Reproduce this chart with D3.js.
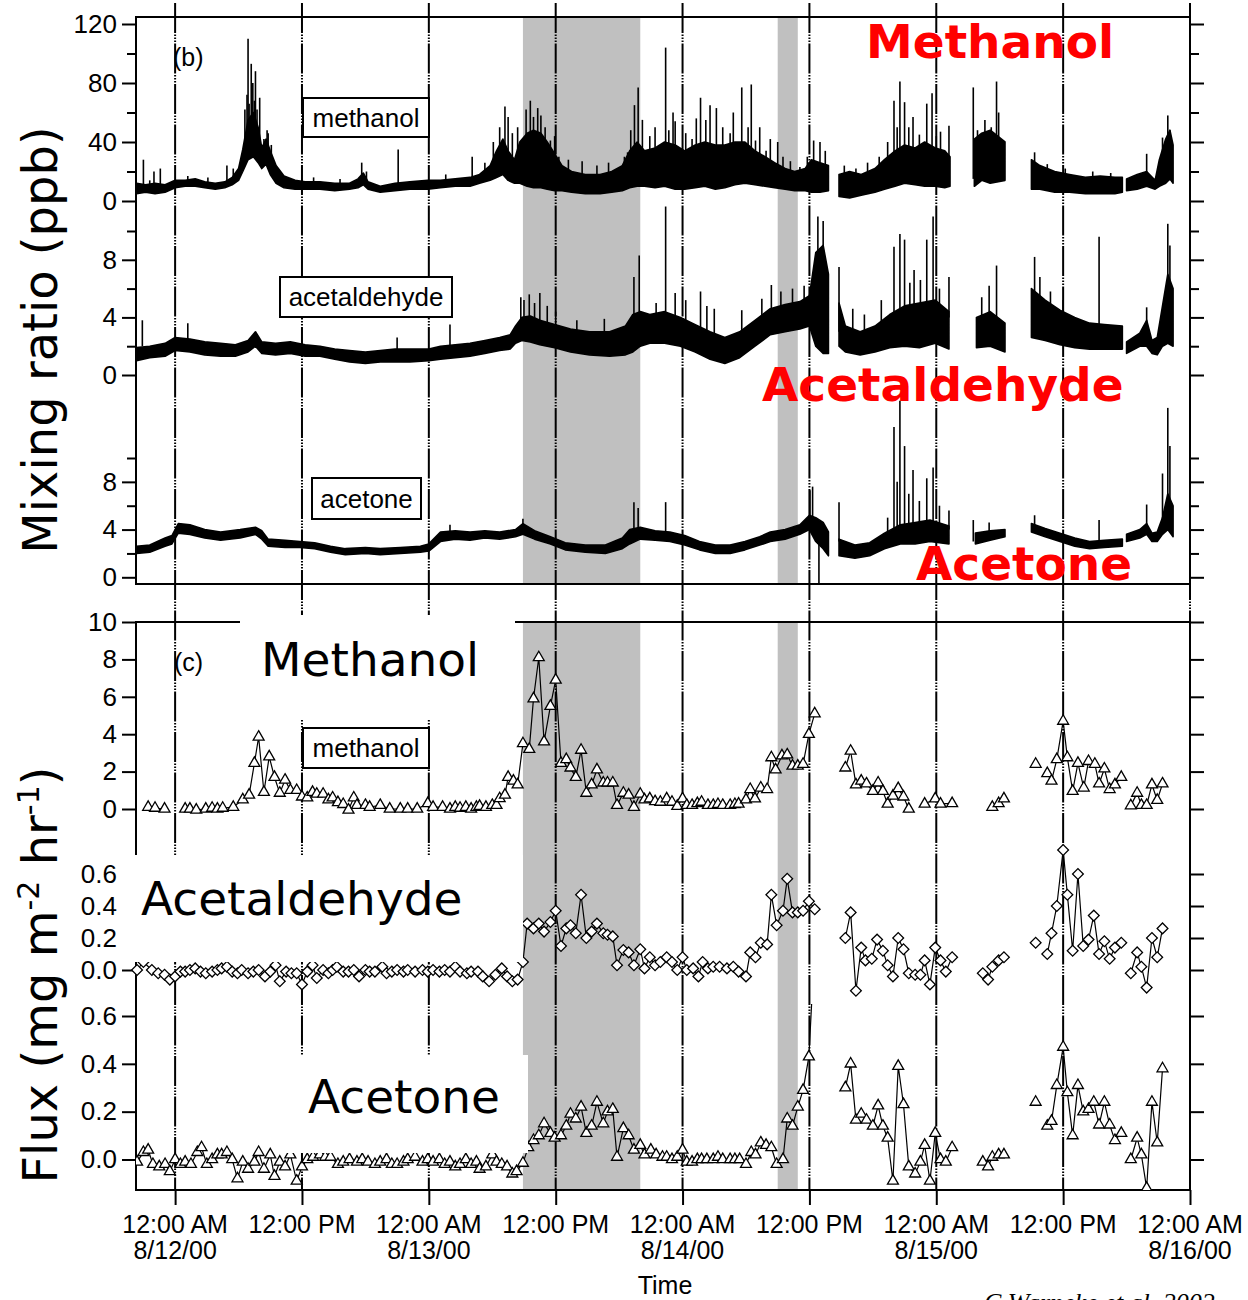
<!DOCTYPE html>
<html>
<head>
<meta charset="utf-8">
<script src="https://cdn.jsdelivr.net/npm/d3@7"></script>
<style>
  body { margin: 0; background: #fff; }
</style>
</head>
<body>
<svg id="chart" width="1248" height="1300" font-family="Liberation Sans, Arial, sans-serif"></svg>
<script>
// time is hours after 12:00 AM 8/12/00

// mixing ratios (ppb) : [hour, low edge of trace, high edge of trace], null = no data
var methBand = [[-3.65,5,12],[-2.8,6,11],[-1.9,5,12],[-0.95,6,11],[0,9,14],[0.95,10,14],[1.9,10,15],[2.8,9,13],[3.8,8,12],[4.7,9,13],[5.4,11,16],[6.0,14,22],[6.4,20,35],[6.9,28,55],[7.4,30,60],[7.85,26,50],[8.2,22,36],[8.6,25,42],[9.0,18,34],[9.55,12,24],[10.3,9,17],[11.35,8,14],[12.3,8,13],[13.7,8,13],[15.1,7,12],[16.5,8,12],[17.3,9,15],[17.8,11,19],[18.25,8,13],[19.4,6,10],[20.8,7,12],[22.2,8,13],[23.9,8,14],[25.1,9,14],[26.5,10,15],[27.9,10,16],[28.8,12,18],[29.8,14,24],[30.4,16,34],[31.0,18,42],[31.5,14,34],[32.1,12,28],[32.6,12,40],[33.3,10,46],[33.9,9,48],[34.6,9,46],[35.2,8,40],[35.9,7,32],[36.6,7,24],[37.5,6,20],[38.8,5,18],[40.2,5,18],[41.3,6,20],[42.3,7,24],[43.0,9,34],[43.7,10,40],[44.4,10,34],[45.4,9,36],[46.3,10,40],[47.3,8,38],[48.2,8,34],[49.2,9,38],[50.1,10,40],[51.1,8,38],[52.0,9,38],[52.95,11,40],[53.9,12,40],[54.85,11,34],[55.8,10,30],[56.7,9,26],[57.7,8,22],[58.6,7,20],[59.6,7,22],[60.2,6,28],[61.0,6,26],[61.8,7,24],[62.2,null,null],[62.8,3,18],[63.8,2,20],[64.9,4,18],[66.2,6,22],[67.1,8,28],[68.1,10,34],[69.0,12,38],[70.0,11,36],[70.9,10,40],[71.9,10,36],[72.8,9,34],[73.3,10,30],[73.6,null,null],[75.6,10,42],[76.3,14,46],[77.1,12,48],[78.5,14,40],[78.8,null,null],[81.0,8,28],[81.8,8,24],[83.2,6,20],[84.6,6,18],[86.1,5,16],[87.5,5,17],[88.9,5,16],[89.6,6,16],[89.8,null,null],[90.0,7,15],[91.0,8,18],[91.9,10,20],[92.7,8,14],[93.1,10,28],[93.7,12,42],[94.1,15,48],[94.4,12,38]];
var aldBand = [[-3.65,1.0,1.9],[-2.4,1.2,2.0],[-0.95,1.3,2.2],[0,1.7,2.6],[1.4,1.6,2.5],[2.8,1.4,2.3],[4.3,1.3,2.2],[5.7,1.3,2.1],[6.9,1.6,2.4],[7.6,2.0,3.0],[8.2,1.5,2.3],[9.5,1.4,2.2],[10.9,1.5,2.3],[12.3,1.3,2.1],[13.7,1.3,2.0],[15.1,1.1,1.8],[16.5,0.9,1.7],[18.0,0.8,1.6],[19.4,0.9,1.7],[20.8,0.9,1.8],[22.2,0.9,1.8],[24.0,1.0,1.8],[25.1,1.1,2.0],[26.5,1.2,2.1],[27.9,1.3,2.2],[29.3,1.5,2.4],[30.7,1.7,2.6],[31.7,1.8,2.8],[32.2,2.2,3.4],[32.8,2.4,4.0],[33.6,2.3,4.1],[34.5,2.1,3.8],[35.9,1.9,3.5],[37.4,1.6,3.2],[39.2,1.4,3.0],[41.1,1.3,3.0],[42.6,1.4,3.4],[43.3,1.6,4.2],[44.0,2.0,4.4],[44.9,2.2,4.2],[46.3,2.2,4.4],[47.8,2.0,4.0],[49.2,1.6,3.5],[50.6,1.1,3.0],[52.0,0.8,2.6],[53.4,1.2,3.0],[54.85,2.0,3.8],[56.3,2.8,4.6],[57.7,3.0,4.9],[59.1,3.2,5.1],[60.0,3.4,5.5],[60.6,2.0,8.5],[61.3,1.5,9.0],[61.8,1.5,7.0],[62.2,null,null],[62.8,2.0,5.0],[63.4,1.6,3.4],[64.8,1.4,3.0],[66.2,1.6,3.4],[67.6,1.9,4.2],[69.0,2.0,4.8],[70.4,1.9,5.0],[71.9,2.2,5.2],[73.2,1.8,4.4],[73.6,null,null],[75.8,1.9,4.0],[77.1,2.0,4.4],[78.5,1.6,3.6],[78.8,null,null],[81.0,2.6,6.0],[82.3,2.4,5.2],[83.7,2.1,4.5],[85.1,1.9,4.0],[86.5,1.8,3.6],[87.9,1.8,3.5],[89.6,1.8,3.4],[89.8,null,null],[90.0,1.5,2.3],[91.25,2.0,2.9],[91.9,2.0,3.8],[92.4,1.5,2.4],[92.9,1.4,2.6],[93.4,2.0,4.8],[93.9,2.2,7.0],[94.4,2.0,6.0]];
var aceBand = [[-3.65,2.0,2.6],[-2.4,2.1,2.7],[-0.95,2.6,3.3],[-0.3,2.8,3.5],[0.3,3.7,4.5],[1.4,3.6,4.4],[2.8,3.3,4.0],[4.3,3.1,3.8],[6.15,3.3,4.0],[7.6,3.6,4.2],[8.2,3.2,3.9],[8.8,2.6,3.2],[10.4,2.5,3.1],[11.8,2.5,3.0],[13.2,2.4,2.9],[14.7,2.1,2.6],[16.1,1.9,2.4],[18.0,2.0,2.5],[19.4,1.9,2.4],[21.3,2.0,2.5],[23.2,2.1,2.6],[24.0,2.2,2.8],[25.1,3.0,3.8],[26.5,3.2,3.9],[27.9,3.1,3.8],[29.3,3.3,3.9],[30.7,3.2,3.8],[32.2,3.4,4.0],[32.9,3.6,4.5],[34.0,3.2,3.9],[35.5,2.8,3.4],[36.9,2.3,2.9],[38.8,2.1,2.7],[40.7,2.0,2.7],[42.3,2.4,3.3],[43.0,2.8,4.0],[44.0,3.2,4.2],[45.4,3.1,3.9],[46.8,3.0,3.8],[48.2,2.7,3.5],[49.6,2.3,3.0],[51.1,2.0,2.7],[52.5,2.0,2.7],[53.9,2.3,3.0],[55.3,2.7,3.4],[56.3,3.0,3.8],[57.7,3.2,4.0],[59.1,3.6,4.4],[60.0,4.0,5.2],[60.6,3.0,5.0],[61.3,2.4,4.6],[61.8,1.8,3.8],[62.2,null,null],[62.8,1.8,3.2],[64.3,1.6,2.7],[65.7,1.8,2.9],[67.1,2.4,3.7],[68.6,2.8,4.4],[70.0,2.8,4.6],[71.4,3.0,4.8],[73.2,2.8,4.3],[73.6,null,null],[75.7,2.8,3.7],[77.1,3.1,3.9],[78.5,3.4,4.0],[78.8,null,null],[81.0,3.8,4.5],[82.3,3.4,4.1],[83.7,3.0,3.7],[85.1,2.6,3.3],[86.5,2.4,3.0],[87.9,2.5,3.1],[89.6,2.6,3.2],[89.8,null,null],[90.0,3.0,3.6],[91.25,3.3,4.0],[91.9,3.6,4.5],[92.4,3.0,3.7],[92.9,3.0,3.8],[93.4,3.6,5.0],[93.9,4.0,7.0],[94.4,3.4,6.0]];

// single readings sticking out of the trace: [hour, from, to]
var methSpikes = [[-3.0,10,28],[-2.4,9,14],[-2.0,9,20],[-1.4,9,22],[1.2,12,17],[3.1,11,16],[4.9,12,24],[5.5,12,22],[6.6,30,62],[6.8,30,72],[6.9,40,110],[7.0,30,66],[7.2,40,93],[7.35,30,80],[7.5,30,68],[7.6,40,88],[7.75,30,62],[8.0,30,70],[8.4,25,42],[8.7,30,48],[8.8,25,46],[9.1,20,38],[13.1,11,16],[15.6,10,15],[17.65,14,26],[18.1,12,20],[21.1,10,35],[25.6,12,18],[28.1,14,30],[29.3,16,26],[30.1,18,40],[30.7,20,50],[31.2,20,64],[31.5,20,57],[31.9,18,46],[32.4,15,50],[33.2,15,62],[33.6,15,68],[33.9,15,57],[34.3,15,63],[34.6,15,58],[35.0,12,50],[35.5,12,41],[35.9,12,44],[36.3,10,30],[37.2,10,28],[38.5,10,27],[39.9,10,24],[41.0,10,26],[42.5,10,30],[42.8,10,33],[43.1,10,48],[43.45,15,65],[43.8,15,77],[44.2,15,55],[44.9,15,44],[45.4,15,50],[46.4,15,104],[46.7,15,48],[47.1,15,60],[47.3,15,54],[48.3,15,46],[48.9,15,42],[49.3,15,56],[49.7,15,70],[50.2,15,55],[50.6,15,65],[51.2,15,63],[51.8,15,50],[52.5,15,46],[52.8,15,60],[53.6,15,77],[54.2,15,50],[54.5,15,79],[54.9,15,41],[55.3,15,50],[55.9,15,34],[56.3,15,42],[57.0,12,40],[57.5,12,30],[58.2,10,27],[59.1,10,23],[59.8,10,30],[60.4,10,41],[61.0,10,40],[61.5,10,34],[63.3,8,24],[64.4,8,22],[65.5,8,26],[66.6,10,30],[67.4,12,40],[68.0,15,68],[68.3,15,50],[68.56,15,81],[69.0,15,67],[69.4,15,50],[69.8,15,57],[70.4,15,45],[71.1,15,66],[71.6,15,73],[72.0,15,44],[72.4,15,47],[73.2,15,51],[75.5,15,77],[75.9,15,48],[76.6,15,55],[77.2,15,50],[77.7,15,81],[77.9,15,60],[81.3,12,33],[82.5,10,25],[84.2,8,22],[86.8,8,20],[88.5,8,19],[91.9,12,32],[93.4,14,43],[93.9,14,58],[94.1,14,48]];
var aldSpikes = [[-3.1,2,3.8],[1.2,2.4,3.6],[21.0,1.6,2.6],[26.0,2,3.5],[32.7,3,5.4],[33.0,3,5.2],[33.5,3,5.6],[34.0,3,5.0],[34.5,3,5.7],[35.2,3,4.8],[36.0,3,4.4],[38.0,2.5,3.8],[40.6,2.5,3.9],[43.4,3,6.8],[43.9,3,8.3],[45.5,3.5,5.0],[46.4,3.5,11.7],[47.3,3.5,5.7],[48.3,3,5.2],[49.7,3,5.8],[50.3,2.5,4.8],[51.0,2.5,4.6],[53.6,3,4.5],[55.5,3.5,5.3],[56.4,4,6.25],[57.3,4,5.8],[58.4,4,6.0],[59.5,4,6.2],[60.8,5,11.0],[61.3,5,10.7],[62.8,3,7.5],[64.1,2.5,4.6],[65.2,2.5,4.2],[66.8,3,5.2],[68.0,4,8.9],[68.56,4,9.8],[69.0,4,9.4],[69.5,4,6.4],[69.9,4,7.3],[70.5,4,6.6],[71.1,4,9.4],[71.7,4,11.0],[72.3,4,6.0],[73.2,4,6.8],[76.3,3,5.4],[77.0,3,6.2],[77.7,4,7.6],[81.3,5,8.2],[81.8,4,6.8],[82.8,4,5.8],[84.0,3.5,5.2],[87.4,3.5,9.6],[91.9,3,4.7],[93.9,5,10.5],[94.1,5,9.0]];
var aceSpikes = [[26.0,3.6,4.4],[32.9,4,4.9],[43.4,3.5,6.3],[43.8,3.5,5.8],[46.4,3.5,6.3],[60.05,4.5,7.3],[60.3,4.5,7.6],[60.9,4.0,-0.5],[62.8,3,6.3],[67.4,3,5.0],[68.0,4,12.6],[68.3,4,8.0],[68.56,4,14.8],[69.0,4,11.0],[69.4,4,7.0],[69.8,4,9.0],[70.4,4,6.4],[71.1,4,8.3],[71.7,4,9.2],[72.3,4,6.0],[73.2,4,5.6],[75.5,3,4.8],[77.0,3.5,4.6],[81.3,4,5.2],[87.4,3,4.8],[91.9,4,6.1],[93.4,4,8.7],[93.9,4,14.2],[94.1,4,11.0]];

// fluxes (mg m-2 hr-1): [hour, value], null = gap
var methFlux = [[-2.55,0.1],[-1.9,0.05],[-1.0,0.0],[0,null],[0.95,0.0],[1.4,0.0],[2.0,-0.05],[2.9,0.0],[3.5,0.05],[4.0,0.0],[4.5,0.05],[5.5,0.1],[6.4,0.5],[7.0,0.75],[7.5,2.45],[7.9,3.85],[8.4,0.9],[8.9,2.8],[9.4,1.7],[9.9,0.85],[10.4,1.55],[10.9,1.0],[11.5,1.0],[12.0,0.65],[12.5,0.6],[13.0,0.9],[13.4,0.8],[14.0,0.8],[14.5,0.5],[14.9,0.6],[15.4,0.35],[15.9,0.25],[16.4,-0.05],[16.9,0.6],[17.2,0.2],[18.0,0.2],[18.4,0.1],[19.4,0.2],[20.3,0.0],[21.3,0.0],[22.0,0.0],[22.9,0.0],[23.9,0.3],[24.4,0.1],[25.3,0.1],[26.0,0.0],[26.5,0.1],[26.95,0.05],[27.5,0.1],[28.0,0.0],[28.5,0.1],[28.8,0.15],[29.4,0.1],[30.0,0.2],[30.4,0.2],[30.7,0.56],[31.2,0.75],[31.5,1.7],[32.0,1.5],[32.4,1.3],[32.9,3.5],[33.5,3.2],[33.9,5.9],[34.4,8.1],[34.9,3.6],[35.5,5.5],[36.0,6.9],[36.5,2.45],[37.0,2.65],[37.4,2.2],[37.9,1.7],[38.4,3.15],[38.9,0.85],[39.4,1.3],[39.9,2.1],[40.5,1.4],[40.9,1.4],[41.4,1.4],[41.8,0.2],[42.4,0.85],[42.9,0.75],[43.4,0.1],[44.0,0.8],[44.4,0.5],[44.9,0.55],[45.4,0.4],[45.9,0.37],[46.5,0.55],[47.0,0.37],[47.5,0.15],[48.0,0.55],[48.4,0.2],[48.9,0.2],[49.4,0.3],[49.8,0.37],[50.4,0.2],[50.9,0.2],[51.35,0.25],[51.8,0.2],[52.5,0.2],[52.95,0.25],[53.3,0.27],[54.0,0.5],[54.4,1.05],[54.85,0.55],[55.4,1.13],[56.0,1.05],[56.4,2.75],[56.8,2.1],[57.4,2.85],[57.9,2.9],[58.4,2.3],[58.9,2.3],[59.4,2.4],[59.95,4.0],[60.5,5.1],[61.5,null],[63.4,2.2],[63.9,3.1],[64.4,1.3],[64.9,1.5],[65.4,1.35],[66.0,0.95],[66.5,1.4],[66.95,0.95],[67.4,0.27],[67.9,0.7],[68.4,1.1],[68.9,0.65],[69.4,0.0],[70.2,null],[70.9,0.27],[71.9,0.55],[72.4,0.27],[73.5,0.3],[75,null],[77.3,0.1],[77.9,0.3],[78.4,0.55],[80,null],[81.4,2.4],[82,null],[82.5,1.9],[82.9,1.5],[83.4,2.65],[84.0,4.7],[84.4,2.75],[84.9,0.95],[85.4,2.45],[85.95,1.13],[86.4,2.55],[87.0,2.4],[87.4,1.35],[87.9,2.15],[88.4,1.05],[88.9,1.3],[89.5,1.7],[90,null],[90.4,0.18],[91.0,0.85],[91.4,0.2],[91.9,0.2],[92.4,1.3],[92.9,0.47],[93.4,1.35]];
var aldFlux = [[-3.6,0.0],[-3.0,0.05],[-2.2,0.0],[-1.6,-0.02],[-1.0,-0.03],[-0.5,-0.06],[0,-0.04],[0.5,-0.01],[0.95,-0.01],[1.4,0.0],[1.9,0.01],[2.4,-0.01],[2.9,-0.02],[3.5,-0.01],[4.0,0.0],[4.4,0.01],[4.9,0.02],[5.4,-0.01],[5.9,-0.02],[6.3,0.0],[6.9,-0.02],[7.4,-0.01],[7.9,0.0],[8.5,-0.04],[9.0,-0.01],[9.5,0.03],[9.9,-0.07],[10.5,-0.01],[11.0,-0.02],[11.5,-0.02],[12.0,-0.09],[12.5,-0.01],[13.0,0.03],[13.4,-0.05],[14.0,0.0],[14.5,-0.02],[14.9,0.0],[15.3,0.02],[15.9,-0.01],[16.4,-0.01],[16.9,0.0],[17.4,-0.04],[18.0,0.0],[18.4,-0.01],[18.9,-0.01],[19.6,0.02],[20.0,-0.02],[20.5,-0.01],[21.0,0.0],[21.6,-0.01],[22.0,0.0],[22.7,-0.01],[23.4,0.0],[23.9,-0.01],[24.4,0.0],[25.0,-0.01],[25.5,0.0],[26.0,-0.01],[26.5,0.02],[26.95,-0.01],[27.6,-0.02],[28.0,-0.01],[28.65,-0.01],[29.1,-0.04],[29.7,-0.07],[30.3,-0.03],[30.9,0.01],[31.4,-0.04],[31.9,-0.07],[32.4,-0.06],[32.9,0.05],[33.3,0.29],[33.9,0.26],[34.4,0.29],[34.9,0.24],[35.5,0.3],[36.0,0.37],[36.5,0.15],[37.0,0.26],[37.4,0.28],[37.9,0.23],[38.4,0.47],[38.9,0.2],[39.4,0.24],[39.9,0.29],[40.5,0.23],[40.9,0.22],[41.4,0.21],[41.8,0.03],[42.4,0.125],[42.9,0.11],[43.4,0.03],[44.0,0.13],[44.4,0.01],[44.9,0.08],[45.4,0.03],[45.9,0.05],[46.5,0.08],[47.0,0.05],[47.5,0.0],[48.0,0.08],[48.4,0.0],[49.0,0.01],[49.5,-0.04],[49.9,0.05],[50.4,0.01],[50.9,0.02],[51.5,0.02],[52.2,0.01],[52.8,0.02],[53.3,-0.01],[54.0,-0.04],[54.4,0.11],[54.9,0.08],[55.4,0.17],[56.0,0.16],[56.4,0.47],[56.9,0.28],[57.5,0.37],[57.9,0.57],[58.4,0.36],[58.9,0.36],[59.4,0.37],[59.95,0.43],[60.5,0.38],[61.5,null],[63.4,0.2],[63.9,0.36],[64.4,-0.13],[64.9,0.14],[65.3,0.06],[65.9,0.07],[66.4,0.19],[66.95,0.12],[67.4,0.03],[67.9,-0.04],[68.4,0.2],[68.9,0.13],[69.4,-0.02],[70.0,-0.03],[70.5,-0.03],[70.9,0.06],[71.4,-0.09],[71.9,0.14],[72.4,0.06],[72.9,-0.01],[73.5,0.08],[75,null],[76.4,-0.02],[76.9,-0.06],[77.3,0.02],[77.9,0.06],[78.4,0.08],[80,null],[81.4,0.17],[82,null],[82.5,0.1],[82.9,0.23],[83.4,0.4],[84.0,0.75],[84.4,0.47],[84.9,0.12],[85.4,0.6],[85.9,0.15],[86.4,0.19],[86.9,0.34],[87.4,0.1],[87.9,0.18],[88.4,0.07],[88.9,0.14],[89.5,0.17],[90,null],[90.4,-0.02],[91.0,0.11],[91.4,0.02],[91.9,-0.11],[92.4,0.2],[92.9,0.08],[93.4,0.26]];
var aceFlux = [[-3.6,-0.01],[-3.0,0.03],[-2.55,0.04],[-2.1,-0.02],[-1.5,-0.03],[-0.95,-0.02],[-0.5,-0.05],[0,0.0],[0.5,-0.02],[0.95,-0.01],[1.5,-0.02],[2.1,0.03],[2.5,0.05],[3.0,-0.02],[3.5,0.0],[4.0,0.02],[4.4,0.02],[4.9,0.03],[5.4,0.0],[5.9,-0.08],[6.4,-0.01],[6.9,-0.04],[7.5,-0.01],[7.9,0.03],[8.4,-0.04],[9.0,0.02],[9.4,-0.07],[9.9,-0.01],[10.4,-0.03],[10.9,0.02],[11.5,-0.09],[12.0,-0.03],[12.5,0.0],[13.05,0.01],[13.7,0.02],[14.2,0.01],[14.7,0.01],[15.4,-0.02],[15.9,-0.01],[16.5,0.0],[17.2,-0.01],[17.7,0.0],[18.25,-0.01],[18.9,-0.02],[19.4,-0.01],[20.0,0.0],[20.5,-0.02],[21.0,-0.02],[21.6,-0.01],[22.0,0.0],[22.7,0.01],[23.4,-0.01],[23.9,0.0],[24.4,-0.01],[25.0,0.0],[25.5,-0.02],[26.0,-0.01],[26.5,-0.03],[26.95,-0.02],[27.5,0.0],[28.0,-0.02],[28.5,-0.01],[28.8,-0.04],[29.4,-0.03],[30.0,0.02],[30.4,-0.01],[30.9,-0.02],[31.4,-0.03],[31.9,-0.06],[32.3,-0.05],[32.9,-0.015],[33.4,0.05],[33.9,0.08],[34.4,0.1],[34.9,0.15],[35.5,0.11],[35.9,0.09],[36.5,0.1],[37.0,0.14],[37.4,0.19],[37.9,0.17],[38.4,0.22],[38.9,0.11],[39.4,0.14],[39.9,0.24],[40.5,0.15],[40.9,0.2],[41.4,0.21],[41.8,0.01],[42.4,0.13],[42.9,0.1],[43.4,0.04],[44.0,0.06],[44.4,0.02],[45.0,0.04],[45.5,0.02],[46.1,0.01],[46.5,0.01],[47.0,0.0],[47.5,0.01],[48.0,0.04],[48.4,-0.01],[48.9,-0.01],[49.4,0.0],[49.8,0.0],[50.3,0.0],[50.9,0.0],[51.35,0.01],[51.8,0.0],[52.5,0.0],[52.95,0.0],[53.4,0.0],[54.0,-0.02],[54.5,0.03],[54.9,0.02],[55.4,0.07],[55.9,0.06],[56.4,0.05],[56.9,-0.02],[57.5,0.0],[57.9,0.17],[58.4,0.14],[58.9,0.22],[59.4,0.29],[59.95,0.43],[60.5,0.9],[61.5,null],[63.4,0.3],[63.9,0.4],[64.4,0.165],[64.9,0.19],[65.4,0.165],[66.0,0.14],[66.5,0.225],[66.95,0.14],[67.4,0.09],[67.9,-0.09],[68.4,0.39],[68.9,0.23],[69.4,-0.03],[70.0,-0.06],[70.5,-0.01],[70.9,0.06],[71.4,-0.09],[71.9,0.11],[72.4,0.0],[72.9,-0.01],[73.5,0.05],[75,null],[76.4,-0.01],[76.9,-0.03],[77.3,0.01],[77.9,0.02],[78.4,0.02],[80,null],[81.4,0.24],[82,null],[82.5,0.14],[82.9,0.16],[83.4,0.31],[84.0,0.47],[84.4,0.28],[84.9,0.1],[85.4,0.31],[85.9,0.2],[86.4,0.21],[86.9,0.24],[87.4,0.145],[87.9,0.24],[88.4,0.145],[88.9,0.08],[89.5,0.11],[90,null],[90.4,0.0],[91.0,0.09],[91.4,0.02],[91.9,-0.12],[92.4,0.24],[92.9,0.07],[93.4,0.38]];

// shaded periods [start hour, end hour]
var shaded = [[32.9, 44.0], [57.0, 58.9]];

// axis ticks
var xTickHours = [0, 12, 24, 36, 48, 60, 72, 84, 96];
var xTickTime = ["12:00 AM", "12:00 PM", "12:00 AM", "12:00 PM", "12:00 AM", "12:00 PM", "12:00 AM", "12:00 PM", "12:00 AM"];
var xTickDate = ["8/12/00", "", "8/13/00", "", "8/14/00", "", "8/15/00", "", "8/16/00"];
var methTicks = [0, 40, 80, 120], methMinor = [20, 60, 100];
var pptTicks = [0, 4, 8], pptMinor = [2, 6, 10];
var methFluxTicks = [0, 2, 4, 6, 8, 10];
var smallFluxTicks = [0, 0.2, 0.4, 0.6];

var svg = d3.select("#chart");
var L = 136, R = 1190;
var SANS = "Liberation Sans, Arial, sans-serif", DEJAVU = "DejaVu Sans, sans-serif";

var x = d3.scaleLinear().domain([-3.7, 96]).range([L, R]);
var yMeth = d3.scaleLinear().domain([0, 120]).range([201, 24]);
var yAld = d3.scaleLinear().domain([0, 10]).range([375, 231]);
var yAce = d3.scaleLinear().domain([0, 10]).range([577.3, 458]);
var yMethF = d3.scaleLinear().domain([0, 10]).range([809, 622]);
var yAldF = d3.scaleLinear().domain([0, 0.6]).range([970, 874]);
var yAceF = d3.scaleLinear().domain([0, 0.6]).range([1159.5, 1016]);

var topP = { y0: 17, y1: 584 }, botP = { y0: 622, y1: 1190 };

var defs = svg.append("defs");
defs.append("clipPath").attr("id", "clipTop").append("rect")
  .attr("x", L).attr("y", topP.y0).attr("width", R - L).attr("height", topP.y1 - topP.y0);
defs.append("clipPath").attr("id", "clipAce").append("rect")
  .attr("x", L).attr("y", 1004).attr("width", R - L).attr("height", botP.y1 - 1004);

// gray shading
[topP, botP].forEach(function(p) {
  svg.append("g").selectAll("rect").data(shaded).enter().append("rect")
    .attr("x", function(d) { return x(d[0]); })
    .attr("width", function(d) { return x(d[1]) - x(d[0]); })
    .attr("y", p.y0).attr("height", p.y1 - p.y0)
    .attr("fill", "#c0c0c0");
});

// 12-hour dashed grid lines
svg.append("g").selectAll("line").data(xTickHours).enter().append("line")
  .attr("x1", function(d) { return x(d); }).attr("x2", function(d) { return x(d); })
  .attr("y1", 3).attr("y2", botP.y1)
  .attr("stroke", "#000").attr("stroke-width", 2)
  .attr("stroke-dasharray", "30,1.5,1.5,1.5,1.5,1.5,1.5,1.5");

// top panel traces
var topG = svg.append("g").attr("clip-path", "url(#clipTop)");
function trace(band, spikes, y) {
  var area = d3.area()
    .defined(function(d) { return d[1] != null; })
    .x(function(d) { return x(d[0]); })
    .y0(function(d) { return y(d[1]); })
    .y1(function(d) { return y(d[2]); });
  topG.append("path").datum(band).attr("d", area)
    .attr("fill", "#000").attr("stroke", "#000").attr("stroke-width", 1.6)
    .attr("stroke-linejoin", "round");
  topG.append("g").selectAll("line").data(spikes).enter().append("line")
    .attr("x1", function(d) { return x(d[0]); }).attr("x2", function(d) { return x(d[0]); })
    .attr("y1", function(d) { return y(d[1]); }).attr("y2", function(d) { return y(d[2]); })
    .attr("stroke", "#000").attr("stroke-width", 1.6);
}
trace(methBand, methSpikes, yMeth);
trace(aldBand, aldSpikes, yAld);
trace(aceBand, aceSpikes, yAce);

// frames
[topP, botP].forEach(function(p) {
  svg.append("rect").attr("x", L).attr("y", p.y0).attr("width", R - L).attr("height", p.y1 - p.y0)
    .attr("fill", "none").attr("stroke", "#000").attr("stroke-width", 2);
});

// y axes, labelled on the left and mirrored on the right
function yAxis(scale, major, minor, fmt) {
  function style(g) {
    g.attr("font-family", SANS).attr("font-size", 26);
    g.select(".domain").remove();
    g.selectAll("line").attr("stroke-width", 2);
    g.selectAll("text").attr("fill", "#000");
  }
  svg.append("g").attr("transform", "translate(" + L + ",0)")
    .call(d3.axisLeft(scale).tickValues(major).tickSize(14).tickPadding(5).tickFormat(fmt)).call(style);
  svg.append("g").attr("transform", "translate(" + R + ",0)")
    .call(d3.axisRight(scale).tickValues(major).tickSize(14).tickFormat("")).call(style);
  if (minor.length) {
    svg.append("g").attr("transform", "translate(" + L + ",0)")
      .call(d3.axisLeft(scale).tickValues(minor).tickSize(9).tickFormat("")).call(style);
    svg.append("g").attr("transform", "translate(" + R + ",0)")
      .call(d3.axisRight(scale).tickValues(minor).tickSize(9).tickFormat("")).call(style);
  }
}
yAxis(yMeth, methTicks, methMinor, d3.format("d"));
yAxis(yAld, pptTicks, pptMinor, d3.format("d"));
yAxis(yAce, pptTicks, pptMinor, d3.format("d"));
yAxis(yMethF, methFluxTicks, [], d3.format("d"));
yAxis(yAldF, smallFluxTicks, [], d3.format(".1f"));
yAxis(yAceF, smallFluxTicks, [], d3.format(".1f"));

// bottom time axis
var xAxisG = svg.append("g").attr("transform", "translate(0," + botP.y1 + ")")
  .call(d3.axisBottom(x).tickValues(xTickHours).tickSize(15).tickFormat(""));
xAxisG.select(".domain").remove();
xAxisG.selectAll("line").attr("stroke-width", 2);
var lab = svg.append("g").attr("font-size", 25).attr("text-anchor", "middle").attr("font-family", SANS);
lab.selectAll("text.t").data(xTickHours).enter().append("text").attr("class", "t")
  .attr("x", function(d) { return x(d); }).attr("y", 1233)
  .text(function(d, i) { return xTickTime[i]; });
lab.selectAll("text.d").data(xTickHours).enter().append("text").attr("class", "d")
  .attr("x", function(d) { return x(d); }).attr("y", 1259)
  .text(function(d, i) { return xTickDate[i]; });
lab.append("text").attr("x", 665).attr("y", 1294).text("Time");

svg.append("text").attr("x", 984).attr("y", 1311).attr("font-size", 26)
  .attr("font-family", "Liberation Serif, Times New Roman, serif").attr("font-style", "italic")
  .text("C.Warneke et al. 2002");

// in-plot legend boxes
function legendBox(x0, y0, w, h, label) {
  svg.append("rect").attr("x", x0).attr("y", y0).attr("width", w).attr("height", h)
    .attr("fill", "#fff").attr("stroke", "#000").attr("stroke-width", 2);
  svg.append("text").attr("x", x0 + w / 2).attr("y", y0 + h / 2 + 9).attr("text-anchor", "middle")
    .attr("font-size", 26).attr("font-family", SANS).text(label);
}
legendBox(303, 98, 126, 39, "methanol");
legendBox(280, 277, 172, 40, "acetaldehyde");
legendBox(312, 478, 109, 41, "acetone");
legendBox(303, 728, 126, 40, "methanol");

svg.append("text").attr("x", 173).attr("y", 66).attr("font-size", 25).text("(b)");
svg.append("text").attr("x", 174).attr("y", 671).attr("font-size", 25).text("(c)");

// flux series
function fluxSeries(data, y, marker, clip) {
  var g = svg.append("g");
  if (clip) g.attr("clip-path", clip);
  var line = d3.line()
    .defined(function(d) { return d[1] != null; })
    .x(function(d) { return x(d[0]); })
    .y(function(d) { return y(d[1]); });
  g.append("path").datum(data).attr("d", line)
    .attr("fill", "none").attr("stroke", "#000").attr("stroke-width", 1.2);
  var sym = marker === "tri" ? d3.symbol(d3.symbolTriangle, 52) : d3.symbol(d3.symbolSquare, 58);
  g.selectAll("path.m").data(data.filter(function(d) { return d[1] != null; })).enter()
    .append("path").attr("class", "m").attr("d", sym)
    .attr("transform", function(d) {
      return "translate(" + x(d[0]) + "," + y(d[1]) + ")" + (marker === "tri" ? "" : " rotate(45)");
    })
    .attr("fill", "#fff").attr("stroke", "#000").attr("stroke-width", 1.3);
}
fluxSeries(methFlux, yMethF, "tri");
fluxSeries(aldFlux, yAldF, "dia");
fluxSeries(aceFlux, yAceF, "tri", "url(#clipAce)");

// white label patches in the flux panel
function patch(x0, y0, w, h, label, tx, ty) {
  svg.append("rect").attr("x", x0).attr("y", y0).attr("width", w).attr("height", h).attr("fill", "#fff");
  svg.append("text").attr("x", tx).attr("y", ty).attr("font-size", 47)
    .attr("font-family", DEJAVU).text(label);
}
patch(240, 615, 275, 105, "Methanol", 261, 676);
patch(120, 855, 403, 107, "Acetaldehyde", 141, 915);
patch(285, 1055, 243, 98, "Acetone", 308, 1113);

// red compound labels
var red = [["Methanol", 866, 58], ["Acetaldehyde", 762, 401], ["Acetone", 916, 580]];
svg.append("g").selectAll("text").data(red).enter().append("text")
  .attr("x", function(d) { return d[1]; }).attr("y", function(d) { return d[2]; })
  .attr("font-size", 47).attr("font-weight", "bold").attr("fill", "#ff0000")
  .attr("font-family", DEJAVU)
  .text(function(d) { return d[0]; });

// y axis titles
svg.append("text").attr("transform", "translate(57,340) rotate(-90)").attr("text-anchor", "middle")
  .attr("font-size", 48).attr("font-family", DEJAVU).text("Mixing ratio (ppb)");
var fl = svg.append("text").attr("transform", "translate(57,975) rotate(-90)").attr("text-anchor", "middle")
  .attr("font-size", 48).attr("font-family", DEJAVU);
fl.append("tspan").text("Flux (mg m");
fl.append("tspan").attr("font-size", 30).attr("dy", -18).text("-2");
fl.append("tspan").attr("dy", 18).text(" hr");
fl.append("tspan").attr("font-size", 30).attr("dy", -18).text("-1");
fl.append("tspan").attr("dy", 18).text(")");
</script>
</body>
</html>
